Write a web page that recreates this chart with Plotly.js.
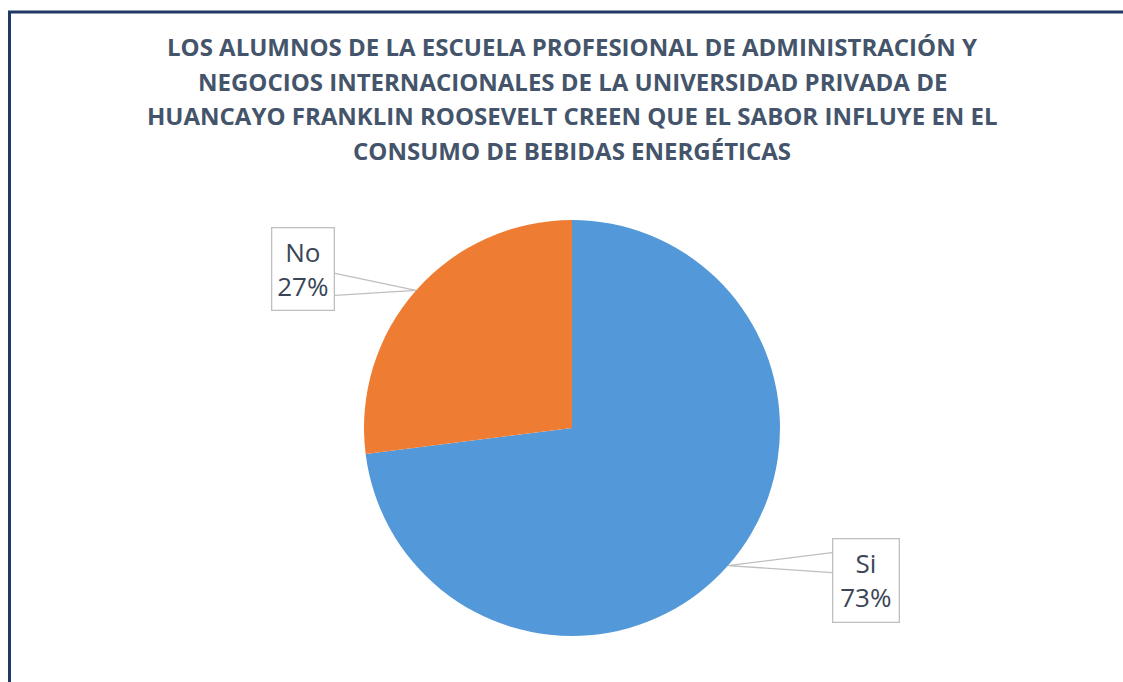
<!DOCTYPE html>
<html><head><meta charset="utf-8">
<script src="https://cdn.plot.ly/plotly-3.0.1.min.js"></script>
<style>html,body{margin:0;padding:0;background:#fff}#chart{width:1123px;height:682px}</style>
</head><body><div id="chart"></div>
<script>
const labels = ['Si', 'No'];
const values = [73, 27];
const colors = ['#5398D8', '#EE7D33'];
const titleLines = [
  'LOS ALUMNOS DE LA ESCUELA PROFESIONAL DE ADMINISTRACIÓN Y',
  'NEGOCIOS INTERNACIONALES DE LA UNIVERSIDAD PRIVADA DE',
  'HUANCAYO FRANKLIN ROOSEVELT CREEN QUE EL SABOR INFLUYE EN EL',
  'CONSUMO DE BEBIDAS ENERGÉTICAS'
];

const W = 1123, H = 682;
const cx = 572, cy = 428, R = 208;
const textColor = '#44546A';
const labelColor = '#3A4657';

const total = values.reduce((a, b) => a + b, 0);
const annotations = [];
titleLines.forEach((t, i) => {
  annotations.push({
    text: '<b>' + t + '</b>', xref: 'paper', yref: 'paper',
    x: cx / W, y: 1 - (46.5 + i * 34.7) / H, xanchor: 'center', yanchor: 'middle',
    showarrow: false, font: {family: 'Open Sans, sans-serif', size: 24, color: textColor}
  });
});
// label box geometry: center offset from slice point, box size, leader attach points (relative to box center)
const boxOff = [[137.5, 15], [-112.5, -21.5]];
const boxSize = [[67, 84], [63, 83]];
const attach = [[[-33.5, -28], [-33.5, -8]], [[31.5, 4.5], [31.5, 26.5]]];
const shapes = [{
  type: 'rect', xref: 'paper', yref: 'paper',
  x0: 9.5 / W, x1: 1.05, y0: -0.05, y1: 1 - 12 / H,
  line: {color: '#1F3864', width: 3}
}];
let cum = 0;
values.forEach((v, i) => {
  const mid = (cum + v / 2) / total * 2 * Math.PI; // clockwise from 12 o'clock
  cum += v;
  const px = cx + R * Math.sin(mid);
  const py = cy - R * Math.cos(mid);
  const bx = px + boxOff[i][0], by = py + boxOff[i][1];
  const a1 = attach[i][0], a2 = attach[i][1];
  shapes.push({
    type: 'path', xref: 'paper', yref: 'paper',
    path: `M ${(bx + a1[0]) / W} ${1 - (by + a1[1]) / H} L ${px / W} ${1 - py / H} L ${(bx + a2[0]) / W} ${1 - (by + a2[1]) / H}`,
    line: {color: '#BFBFBF', width: 1.3}
  });
  annotations.push({
    text: labels[i] + '<br>' + Math.round(v / total * 100) + '%',
    xref: 'paper', yref: 'paper', x: bx / W, y: 1 - by / H,
    xanchor: 'center', yanchor: 'middle', showarrow: false,
    bordercolor: '#BFBFBF', borderwidth: 1.3, borderpad: 0, bgcolor: 'rgba(0,0,0,0)',
    width: boxSize[i][0] - 2, height: boxSize[i][1] - 2, align: 'center', valign: 'middle',
    font: {family: 'Open Sans, sans-serif', size: 26, color: labelColor}
  });
});

const data = [{
  type: 'pie', labels: labels, values: values, sort: false,
  direction: 'clockwise', rotation: 0,
  marker: {colors: colors, line: {color: '#fff', width: 0}},
  textinfo: 'none', hoverinfo: 'label+percent',
  domain: {x: [(cx - R) / W, (cx + R) / W], y: [(H - cy - R) / H, (H - cy + R) / H]}
}];

const layout = {
  width: W, height: H, margin: {l: 0, r: 0, t: 0, b: 0},
  paper_bgcolor: '#fff', showlegend: false,
  annotations: annotations,
  shapes: shapes
};
Plotly.newPlot('chart', data, layout, {displayModeBar: false});
</script></body></html>
